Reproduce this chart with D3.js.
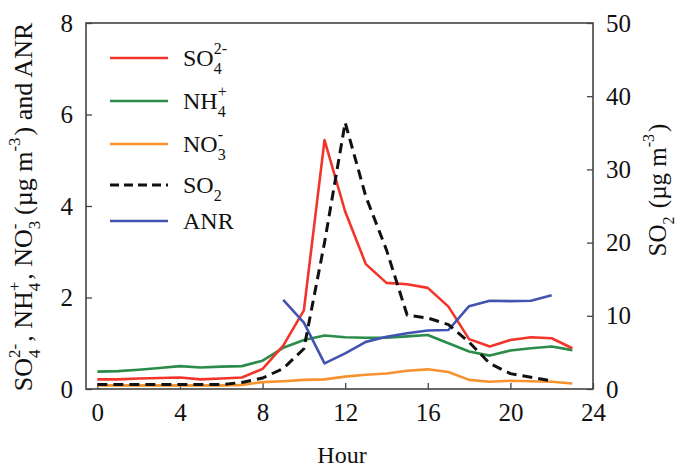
<!DOCTYPE html>
<html>
<head>
<meta charset="utf-8">
<script src="https://cdn.jsdelivr.net/npm/d3@7"></script>
<style>
  body { margin: 0; background: #fff; }
  text { font-family: "Liberation Serif", "Times New Roman", serif; fill: #111; }
</style>
</head>
<body>
<div id="chart"></div>
<script>
// hourly values
var hours = [0,1,2,3,4,5,6,7,8,9,10,11,12,13,14,15,16,17,18,19,20,21,22,23]
var so4 = [0.21,0.21,0.23,0.24,0.25,0.21,0.23,0.25,0.44,0.95,1.72,5.44,3.88,2.73,2.32,2.29,2.21,1.80,1.09,0.93,1.07,1.13,1.11,0.89]
var nh4 = [0.38,0.39,0.42,0.46,0.50,0.47,0.49,0.50,0.62,0.90,1.07,1.17,1.13,1.12,1.12,1.15,1.18,1.00,0.82,0.73,0.84,0.89,0.93,0.85]
var no3 = [0.08,0.08,0.08,0.08,0.08,0.08,0.08,0.09,0.15,0.17,0.20,0.21,0.27,0.31,0.34,0.40,0.43,0.37,0.20,0.16,0.18,0.17,0.16,0.12]
// SO2 on the right axis, hours 0-22
var so2 = [0.6,0.6,0.6,0.6,0.6,0.6,0.6,0.9,1.5,2.8,5.5,20,36.4,26.3,19.0,10.1,9.7,8.8,6.4,3.5,2.1,1.6,1.1]
// ANR only from hour 9 to 22
var anrHours = [9,10,11,12,13,14,15,16,17,18,19,20,21,22]
var anr = [1.95,1.45,0.56,0.78,1.03,1.14,1.22,1.28,1.29,1.81,1.93,1.92,1.93,2.05]

var xTicks = [0,4,8,12,16,20,24]
var yLeftTicks = [0,2,4,6,8]
var yRightTicks = [0,10,20,30,40,50]

var svgSize = { width: 679, height: 468 }
var frame = { left: 86, right: 593, top: 23, bottom: 389 }

var svg = d3.select("#chart").append("svg")
    .attr("width", svgSize.width)
    .attr("height", svgSize.height)

var xScale = d3.scaleLinear().domain([-0.55, 24]).range([frame.left, frame.right])
var yLeft = d3.scaleLinear().domain([0, 8]).range([frame.bottom, frame.top])
var yRight = d3.scaleLinear().domain([0, 50]).range([frame.bottom, frame.top])

// axes with inward ticks
var bottomAxis = d3.axisBottom(xScale).tickValues(xTicks).tickSizeInner(-6).tickSizeOuter(0).tickPadding(14)
var leftAxis = d3.axisLeft(yLeft).tickValues(yLeftTicks).tickSizeInner(-6).tickSizeOuter(0).tickPadding(13)
var rightAxis = d3.axisRight(yRight).tickValues(yRightTicks).tickSizeInner(-6).tickSizeOuter(0).tickPadding(13)

function styleAxis(g) {
  g.select(".domain").remove()
  g.selectAll(".tick line").attr("stroke", "#444").attr("stroke-width", 1.3)
  g.selectAll(".tick text").attr("font-size", 25).attr("fill", "#111")
    .attr("font-family", "Liberation Serif")
}

svg.append("g").attr("transform", `translate(0, ${frame.bottom})`).call(bottomAxis).call(styleAxis)
svg.append("g").attr("transform", `translate(${frame.left}, 0)`).call(leftAxis).call(styleAxis)
svg.append("g").attr("transform", `translate(${frame.right}, 0)`).call(rightAxis).call(styleAxis)

var lines = svg.append("g")

function drawSeries(xs, ys, yScale, color, dash) {
  var line = d3.line().x((d, i) => xScale(xs[i])).y(d => yScale(d))
  lines.append("path")
    .datum(ys)
    .attr("d", line)
    .attr("fill", "none")
    .attr("stroke", color)
    .attr("stroke-width", dash ? 3 : 2.6)
    .attr("stroke-linejoin", "round")
    .attr("stroke-dasharray", dash ? "10,6" : null)
}

var colors = { so4: "#f2352b", nh4: "#2b8c4a", no3: "#f7922f", so2: "#111111", anr: "#4353b0" }

drawSeries(hours, nh4, yLeft, colors.nh4)
drawSeries(hours, no3, yLeft, colors.no3)
drawSeries(hours, so4, yLeft, colors.so4)
drawSeries(anrHours, anr, yLeft, colors.anr)
drawSeries(hours.slice(0, so2.length), so2, yRight, colors.so2, true)

// frame box
svg.append("rect")
    .attr("x", frame.left).attr("y", frame.top)
    .attr("width", frame.right - frame.left).attr("height", frame.bottom - frame.top)
    .attr("fill", "none").attr("stroke", "#444").attr("stroke-width", 1.6)

// text with stacked sub/superscripts
var charW = { "4": 0.5, "3": 0.5, "2": 0.5 }
function richText(t, parts, small) {
  var subOff = 8, supOff = 12
  var cur = 0
  parts.forEach(p => {
    if (p.t !== undefined) {
      t.append("tspan").attr("dy", -cur).attr("dx", cur ? 2 : 0).text(p.t)
      cur = 0
      return
    }
    if (p.sub !== undefined && p.sup !== undefined) {
      var wSub = (charW[p.sub] || 0.5) * small
      t.append("tspan").attr("font-size", small).attr("dy", subOff - cur).text(p.sub)
      t.append("tspan").attr("font-size", small).attr("dx", -wSub).attr("dy", -subOff - supOff).text(p.sup)
      cur = -supOff
      return
    }
    if (p.sub !== undefined) {
      t.append("tspan").attr("font-size", small).attr("dy", subOff - cur).text(p.sub)
      cur = subOff
    }
    if (p.sup !== undefined) {
      t.append("tspan").attr("font-size", small).attr("dy", -supOff - cur).text(p.sup)
      cur = -supOff
    }
  })
}

// legend
var legendItems = [
  { color: colors.so4, parts: [{ t: "SO" }, { sub: "4", sup: "2-" }], y: 58 },
  { color: colors.nh4, parts: [{ t: "NH" }, { sub: "4", sup: "+" }], y: 101 },
  { color: colors.no3, parts: [{ t: "NO" }, { sub: "3", sup: "-" }], y: 144 },
  { color: colors.so2, parts: [{ t: "SO" }, { sub: "2" }], y: 185, dash: true },
  { color: colors.anr, parts: [{ t: "ANR" }], y: 221 }
]
var legend = svg.append("g")
legendItems.forEach(item => {
  legend.append("line")
    .attr("x1", 110).attr("x2", 168).attr("y1", item.y).attr("y2", item.y)
    .attr("stroke", item.color).attr("stroke-width", item.dash ? 3 : 2.6)
    .attr("stroke-dasharray", item.dash ? "9,5" : null)
  var t = legend.append("text").attr("x", 183).attr("y", item.y + 8).attr("font-size", 24)
  richText(t, item.parts, 16)
})

// axis titles
svg.append("text").attr("x", 342).attr("y", 463).attr("text-anchor", "middle")
    .attr("font-size", 24).text("Hour")

var leftTitle = svg.append("text")
    .attr("transform", "translate(32, 207) rotate(-90)")
    .attr("text-anchor", "middle").attr("font-size", 26)
richText(leftTitle, [
  { t: "SO" }, { sub: "4", sup: "2-" }, { t: ", NH" }, { sub: "4", sup: "+" },
  { t: ", NO" }, { sub: "3", sup: "-" }, { t: " (\u00b5g m" }, { sup: "-3" }, { t: ") and ANR" }
], 17)

var rightTitle = svg.append("text")
    .attr("transform", "translate(666, 190) rotate(-90)")
    .attr("text-anchor", "middle").attr("font-size", 25)
richText(rightTitle, [{ t: "SO" }, { sub: "2" }, { t: " (\u00b5g m" }, { sup: "-3" }, { t: ")" }], 16)
</script>
</body>
</html>
